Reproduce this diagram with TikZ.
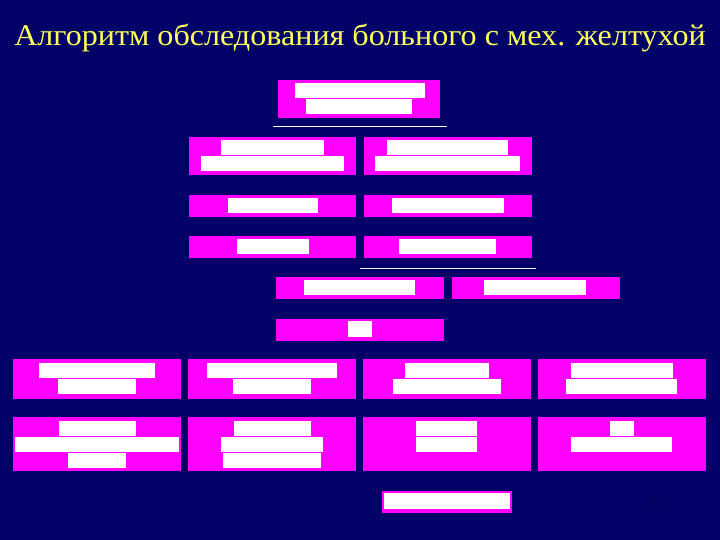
\documentclass[tikz,border=0pt]{standalone}
\usepackage{fontspec}
\setmainfont{Liberation Serif}
\definecolor{navy}{RGB}{2,2,104}
\definecolor{mag}{RGB}{255,0,255}
\definecolor{ttl}{RGB}{255,255,90}
\definecolor{pgnum}{RGB}{10,10,70}
\tikzset{
  boxst/.style={fill=mag},
  barst/.style={fill=white},
  rulest/.style={draw=white, line width=1pt},
}
\begin{document}
\begin{tikzpicture}[x=1pt,y=-1pt]
\useasboundingbox (0,0) rectangle (720,540);
\fill[navy] (0,0) rectangle (720,540);
\node[anchor=base, text=ttl, font=\fontsize{30}{34}\selectfont, inner sep=0pt, xscale=1.07] (title) at (360,46) {Алгоритм обследования больного с мех. желтухой};
% top box
\path[boxst] (278,80) rectangle (440,118);
\path[barst] (295,83) rectangle (425,98);
\path[barst] (306,99) rectangle (412,114);
\coordinate (l1a) at (273,127); \coordinate (l1b) at (447,127);
\draw[rulest] (l1a) -- (l1b);
% row 2
\path[boxst] (189,137) rectangle (356,175);
\path[barst] (221,140) rectangle (324,155);
\path[barst] (201,156) rectangle (344,171);
\path[boxst] (364,137) rectangle (532,175);
\path[barst] (387,140) rectangle (508,155);
\path[barst] (375,156) rectangle (520,171);
% row 3
\path[boxst] (189,195) rectangle (356,217);
\path[barst] (228,198) rectangle (318,213);
\path[boxst] (364,195) rectangle (532,217);
\path[barst] (392,198) rectangle (504,213);
% row 4
\path[boxst] (189,236) rectangle (356,258);
\path[barst] (237,239) rectangle (309,254);
\path[boxst] (364,236) rectangle (532,258);
\path[barst] (399,239) rectangle (496,254);
\coordinate (l2a) at (360,268); \coordinate (l2b) at (536,268);
\draw[rulest] (l2a) -- (l2b);
% row 5
\path[boxst] (276,277) rectangle (444,299);
\path[barst] (304,280) rectangle (415,295);
\path[boxst] (452,277) rectangle (620,299);
\path[barst] (484,280) rectangle (586,295);
% row 6
\path[boxst] (276,319) rectangle (444,341);
\path[barst] (348,321) rectangle (372,337);
% row 7
\path[boxst] (13,359) rectangle (181,399);
\path[barst] (39,363) rectangle (155,378);
\path[barst] (58,379) rectangle (136,394);
\path[boxst] (188,359) rectangle (356,399);
\path[barst] (207,363) rectangle (337,378);
\path[barst] (233,379) rectangle (311,394);
\path[boxst] (363,359) rectangle (531,399);
\path[barst] (405,363) rectangle (489,378);
\path[barst] (393,379) rectangle (501,394);
\path[boxst] (538,359) rectangle (706,399);
\path[barst] (571,363) rectangle (673,378);
\path[barst] (566,379) rectangle (677,394);
% row 8
\path[boxst] (13,417) rectangle (181,471);
\path[barst] (59,421) rectangle (136,436);
\path[barst] (15,437) rectangle (179,452);
\path[barst] (68,453) rectangle (126,468);
\path[boxst] (188,417) rectangle (356,471);
\path[barst] (234,421) rectangle (311,436);
\path[barst] (221,437) rectangle (323,452);
\path[barst] (223,453) rectangle (321,468);
\path[boxst] (363,417) rectangle (531,471);
\path[barst] (416,421) rectangle (477,436);
\path[barst] (416,437) rectangle (477,452);
\path[boxst] (538,417) rectangle (706,471);
\path[barst] (610,421) rectangle (634,436);
\path[barst] (571,437) rectangle (672,452);
% bottom box
\path[boxst] (382,491) rectangle (512,513);
\path[barst] (384,493) rectangle (510,509);
% page number
\node[text=pgnum, font=\fontsize{10}{12}\selectfont, inner sep=0pt] (pnum) at (653,504) {16};
\end{tikzpicture}
\end{document}
